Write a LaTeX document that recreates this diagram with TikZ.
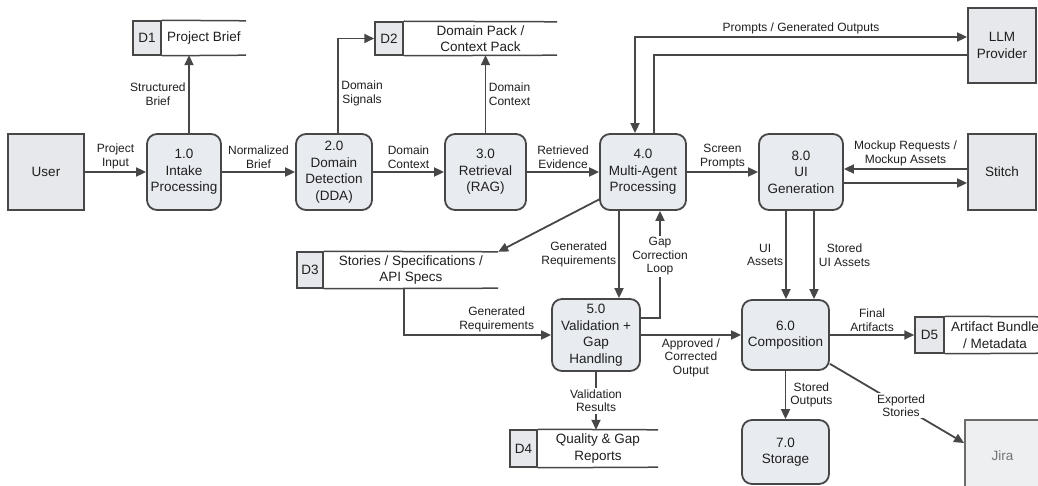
\documentclass[tikz,border=0pt]{standalone}
\usepackage{fontspec}
\setmainfont{Liberation Sans}
\usetikzlibrary{arrows.meta,calc}
\definecolor{linec}{HTML}{474747}
\definecolor{procfill}{HTML}{E8ECF0}
\definecolor{extfill}{HTML}{E6E8EB}
\definecolor{textc}{HTML}{1F1F1F}
\newcommand\procsize{\fontsize{13.5}{16.5}\selectfont}
\newcommand\lblsize{\fontsize{12}{13.5}\selectfont}
\tikzset{
  box/.style={draw=linec, line width=1.8pt, align=center, text=textc, font=\procsize, inner sep=0pt},
  proc/.style={box, fill=procfill, rounded corners=10pt},
  ext/.style={box, fill=extfill},
  storecell/.style={box, fill=extfill, line width=1.5pt},
  storetext/.style={inner sep=0pt, align=center, text=textc, font=\procsize, anchor=west},
  storeline/.style={draw=linec, line width=1.5pt},
  tip/.tip={Triangle[length=10pt,width=9pt]},
  flow/.style={draw=linec, line width=1.8pt, -tip},
  lbl/.style={font=\lblsize, align=center, text=textc, inner sep=2.5pt},
  wlbl/.style={lbl, fill=white, inner sep=1.5pt},
}
\begin{document}
\begin{tikzpicture}[x=1pt,y=-1pt]
\useasboundingbox[fill=white] (0,0) rectangle (1038,486);

% external entities
\node[ext, minimum width=76pt, minimum height=76pt] (user) at (46,172) {User};
\node[ext, minimum width=68pt, minimum height=75pt] (llm) at (1002,45.5) {LLM\\Provider};
\node[ext, minimum width=68pt, minimum height=76pt] (stitch) at (1002,172) {Stitch};
\node[ext, draw=gray!85!black, fill=extfill!70, minimum width=75pt, minimum height=72pt, text=gray!90!black] (jira) at (1002.5,456) {Jira};

% processes
\node[proc, minimum width=74pt, minimum height=76pt] (p1) at (184,172) {1.0\\Intake\\Processing};
\node[proc, minimum width=76pt, minimum height=76pt] (p2) at (334,172) {2.0\\Domain\\Detection\\(DDA)};
\node[proc, minimum width=81pt, minimum height=76pt] (p3) at (485.5,172) {3.0\\Retrieval\\(RAG)};
\node[proc, minimum width=86pt, minimum height=76pt] (p4) at (643,172) {4.0\\Multi-Agent\\Processing};
\node[proc, minimum width=84pt, minimum height=76pt] (p8) at (801,172) {8.0\\UI\\Generation};
\node[proc, minimum width=88pt, minimum height=72pt] (p5) at (596,335) {5.0\\Validation +\\Gap\\Handling};
\node[proc, minimum width=87pt, minimum height=70pt] (p6) at (785.5,335) {6.0\\Composition};
\node[proc, minimum width=87pt, minimum height=64pt] (p7) at (785.5,452) {7.0\\Storage};

% data stores
\node[storecell, minimum width=28pt, minimum height=34pt] (d1) at (147,38) {D1};
\node[storetext, minimum width=84pt, minimum height=34pt] (d1t) at (d1.east) {Project Brief};
\node[storecell, minimum width=28pt, minimum height=33pt] (d2) at (389,38.5) {D2};
\node[storetext, minimum width=153pt, minimum height=33pt] (d2t) at (d2.east) {Domain Pack /\\Context Pack};
\node[storecell, minimum width=26pt, minimum height=36pt] (d3) at (310,270) {D3};
\node[storetext, minimum width=174pt, minimum height=36pt] (d3t) at (d3.east) {Stories / Specifications /\\API Specs};
\node[storecell, minimum width=27pt, minimum height=37pt] (d4) at (523.5,448.5) {D4};
\node[storetext, minimum width=120pt, minimum height=37pt] (d4t) at (d4.east) {Quality \& Gap\\Reports};
\node[storecell, minimum width=29pt, minimum height=36pt] (d5) at (929.5,335) {D5};
\node[storetext, minimum width=100pt, minimum height=36pt] (d5t) at (d5.east) {Artifact Bundle\\/ Metadata};
\foreach \s in {d1,d2,d3,d4,d5}{
  \draw[storeline] (\s.north east) -- (\s t.north east) (\s.south east) -- (\s t.south east);
}

% flows along the main row
\draw[flow] (user) -- node[lbl, above] {Project\\Input} (p1);
\draw[flow] (p1) -- node[lbl, above] {Normalized\\Brief} (p2);
\draw[flow] (p2) -- node[lbl, above] {Domain\\Context} (p3);
\draw[flow] (p3) -- node[lbl, above] {Retrieved\\Evidence} (p4);
\draw[flow] (p4) -- node[lbl, above] {Screen\\Prompts} (p8);

% flows to the upper stores
\draw[flow] ([xshift=5pt]p1.north) -- ([xshift=5pt]p1.north |- d1t.south)
  node[lbl, left, midway] {Structured\\Brief};
\draw[flow] ([xshift=4pt]p2.north) |- node[lbl, right, pos=0.21] {Domain\\Signals} (d2.west);
\draw[flow] (p3.north) -- (p3.north |- d2t.south)
  node[lbl, right, midway] {Domain\\Context};

% LLM provider exchange
\draw[draw=linec, line width=1.8pt, tip-tip]
  ([xshift=-8pt]p4.north) |- node[lbl, above, pos=0.75] {Prompts / Generated Outputs} ([yshift=8.5pt]llm.west);
\draw[draw=linec, line width=1.8pt] ([xshift=11pt]p4.north) |- ([yshift=-9.5pt]llm.west);

% Stitch exchange
\draw[flow] ([yshift=3pt]stitch.west) -- node[lbl, above] {Mockup Requests /\\Mockup Assets} ([yshift=3pt]p8.east);
\draw[flow] ([yshift=-11pt]p8.east) -- ([yshift=-11pt]stitch.west);

% multi-agent outputs
\coordinate (d3corner) at (d3t.north east);
\draw[flow] (p4.212.7) -- (d3corner);
\draw[flow] ([xshift=-24pt]p4.south) -- ([xshift=-24pt]p4.south |- p5.north)
  node[lbl, left, midway, inner sep=2pt] {Generated\\Requirements};
\draw[flow] ([yshift=17pt]p5.east) -| node[wlbl, pos=0.787] {Gap\\Correction\\Loop} ([xshift=17pt]p4.south);
\draw[flow] ([xshift=-7pt]d3t.south) |- node[lbl, above, pos=0.815] {Generated\\Requirements} (p5.west);

% validation outputs
\draw[flow] (p5) -- node[lbl, below] {Approved /\\Corrected\\Output} (p6);
\draw[flow] (p5.south) -- (p5.south |- d4t.north) node[wlbl, midway] {Validation\\Results};

% UI assets into composition
\draw[flow] ([xshift=-15pt]p8.south) -- ([xshift=-15pt]p8.south |- p6.north)
  node[lbl, left, midway, inner sep=2pt] {UI\\Assets};
\draw[flow] ([xshift=13pt]p8.south) -- ([xshift=13pt]p8.south |- p6.north)
  node[lbl, right, midway, inner sep=4pt] {Stored\\UI Assets};

% composition outputs
\draw[flow] (p6) -- node[lbl, above] {Final\\Artifacts} (d5);
\draw[flow] (p6) -- node[lbl, right, inner sep=4pt] {Stored\\Outputs} (p7);
\draw[flow] (p6.-33) -- node[wlbl, pos=0.53] {Exported\\Stories} ([yshift=13pt]jira.west);
\end{tikzpicture}
\end{document}
